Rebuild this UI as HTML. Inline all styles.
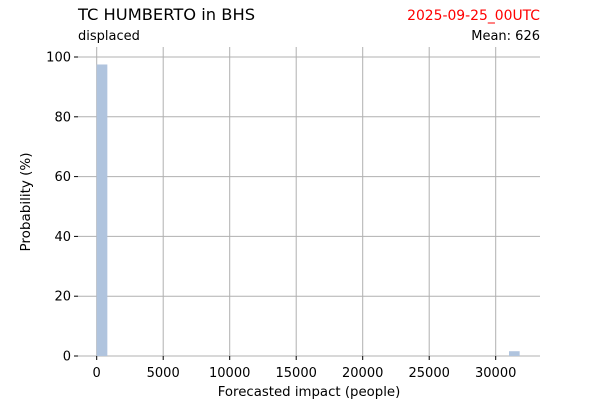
<!DOCTYPE html>
<html><head><meta charset="utf-8"><style>
body{margin:0;background:#fff;font-family:"Liberation Sans","DejaVu Sans",sans-serif;}
</style></head><body>
<svg id="c" width="600" height="400" xmlns="http://www.w3.org/2000/svg" font-family="DejaVu Sans, Liberation Sans, sans-serif">
<text x="78" y="20" font-size="16.3">TC HUMBERTO in BHS</text>
<text x="540" y="20" font-size="13.9" fill="red" text-anchor="end">2025-09-25_00UTC</text>
<text x="78" y="40" font-size="13">displaced</text>
<text x="540" y="40" font-size="13" text-anchor="end">Mean: 626</text>
<g id="grid"></g><g id="bars"></g><g id="ticks"></g>
<text x="309" y="396" font-size="13.3" text-anchor="middle">Forecasted impact (people)</text>
<text transform="translate(30,202) rotate(-90)" font-size="13.5" text-anchor="middle">Probability (%)</text>
</svg>
<script>
const binStarts=[0,31000];
const binEnds=[800,31800];
const probs=[97.5,1.6];
const xTicks=[0,5000,10000,15000,20000,25000,30000];
const yTicks=[0,20,40,60,80,100];
const ns="http://www.w3.org/2000/svg";
const X=v=>96.7+v*(495.7-96.7)/30000;
const Y=v=>356-v*2.99;
function mk(t,a,p){const e=document.createElementNS(ns,t);for(const k in a)e.setAttribute(k,a[k]);document.getElementById(p).appendChild(e);return e;}
const zl=mk('line',{x1:78,x2:540,y1:356,y2:356,stroke:'#eeeeee','stroke-width':1},'grid');


xTicks.forEach(v=>{
 const l=mk('line',{x1:X(v),x2:X(v),y1:47,y2:356,stroke:'#b0b0b0','stroke-width':1},'grid');
 
 
 const tk=mk('line',{x1:X(v),x2:X(v),y1:356,y2:360,stroke:'#000','stroke-width':1},'ticks');
 
 
 const t=mk('text',{x:X(v),y:377,'font-size':13,'text-anchor':'middle'},'ticks');t.textContent=v;
 
 
});
yTicks.forEach(v=>{
 const l=mk('line',{x1:78,x2:540,y1:Y(v),y2:Y(v),stroke:'#b0b0b0','stroke-width':1},'grid');
 
 
 const tk=mk('line',{x1:74,x2:78,y1:Y(v),y2:Y(v),stroke:'#000','stroke-width':1},'ticks');
 
 
 const t=mk('text',{x:71,y:Y(v)+4.5,'font-size':13,'text-anchor':'end'},'ticks');t.textContent=v;
 
 
});
probs.forEach((p,i)=>{
 const r=mk('rect',{x:X(binStarts[i]),y:Y(p),width:X(binEnds[i])-X(binStarts[i]),height:Y(0)-Y(p),fill:'#b0c4de'},'bars');
 
 
});
</script>
</body></html>
